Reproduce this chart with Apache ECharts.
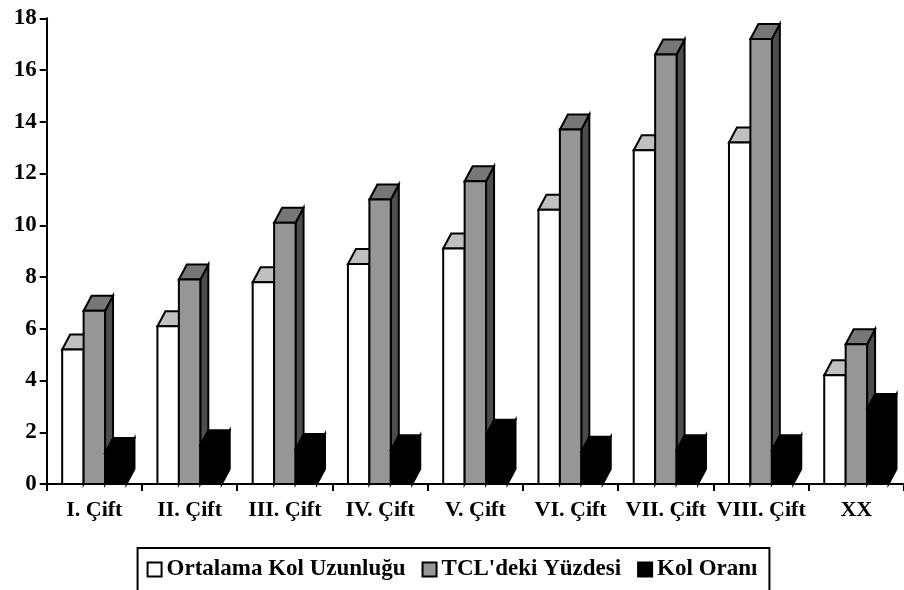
<!DOCTYPE html>
<html>
<head>
<meta charset="utf-8">
<script src="https://cdn.jsdelivr.net/npm/echarts@6/dist/echarts.min.js"></script>
<style>
  html, body { margin: 0; padding: 0; background: #fff; }
  #chart { width: 904px; height: 590px; }
</style>
</head>
<body>
<div id="chart"></div>
<script>
// Chromosome pairs and their measurements
const categories = ['I. Çift', 'II. Çift', 'III. Çift', 'IV. Çift', 'V. Çift', 'VI. Çift', 'VII. Çift', 'VIII. Çift', 'XX'];
const ortalamaKolUzunlugu = [5.2, 6.1, 7.8, 8.5, 9.1, 10.6, 12.9, 13.2, 4.2];
const tclYuzdesi = [6.7, 7.9, 10.1, 11.0, 11.7, 13.7, 16.6, 17.2, 5.4];
const kolOrani = [1.2, 1.5, 1.35, 1.3, 1.9, 1.25, 1.3, 1.3, 2.9];
const yTicks = [0, 2, 4, 6, 8, 10, 12, 14, 16, 18];

const seriesNames = ['Ortalama Kol Uzunluğu', "TCL'deki Yüzdesi", 'Kol Oranı'];
const seriesValues = [ortalamaKolUzunlugu, tclYuzdesi, kolOrani];

// front / top / side shading of each pseudo-3D column
const shades = [
  { front: '#ffffff', top: '#c0c0c0', side: '#dddddd' },
  { front: '#969696', top: '#777777', side: '#4d4d4d' },
  { front: '#000000', top: '#000000', side: '#000000' }
];

const DEPTH_X = 8, DEPTH_Y = 15, BAR_FRAC = 0.225;
const FONT = '"Liberation Serif", "Times New Roman", serif';

function makeRenderer(slot) {
  const sh = shades[slot];
  return function (params, api) {
    const idx = api.value(0);
    const val = api.value(1);
    const base = api.coord([idx, 0]);
    const top = api.coord([idx, val]);
    const band = api.size([1, 0])[0];
    const w = band * BAR_FRAC;
    const x0 = base[0] - 1.5 * w + slot * w;
    const x1 = x0 + w;
    const yb = base[1], yt = top[1];
    const line = { stroke: '#000', lineWidth: 2, lineJoin: 'miter' };
    return {
      type: 'group',
      children: [
        {
          type: 'polygon',
          shape: { points: [[x1, yt], [x1 + DEPTH_X, yt - DEPTH_Y], [x1 + DEPTH_X, yb - DEPTH_Y], [x1, yb]] },
          style: Object.assign({ fill: sh.side }, line)
        },
        {
          type: 'polygon',
          shape: { points: [[x0, yt], [x1, yt], [x1 + DEPTH_X, yt - DEPTH_Y], [x0 + DEPTH_X, yt - DEPTH_Y]] },
          style: Object.assign({ fill: sh.top }, line)
        },
        {
          type: 'rect',
          shape: { x: x0, y: yt, width: w, height: yb - yt },
          style: Object.assign({ fill: sh.front }, line)
        }
      ]
    };
  };
}

const chart = echarts.init(document.getElementById('chart'), null, { renderer: 'canvas' });

const series = seriesNames.map(function (name, s) {
  return {
    name: name,
    type: 'custom',
    renderItem: makeRenderer(s),
    encode: { x: 0, y: 1 },
    itemStyle: { color: shades[s].front },
    data: seriesValues[s].map(function (v, i) { return [i, v]; }),
    z: 2 + s
  };
});

chart.setOption({
  animation: false,
  backgroundColor: '#fff',
  grid: { left: 46.7, right: -4.9, top: 18.3, bottom: 106 },
  legend: {
    left: 'center',
    top: 548,
    orient: 'horizontal',
    itemGap: 16,
    itemWidth: 14,
    itemHeight: 14,
    padding: [10, 12, 10, 9],
    borderColor: '#000',
    borderWidth: 2,
    borderRadius: 0,
    icon: 'rect',
    textStyle: { fontFamily: FONT, fontWeight: 'bold', fontSize: 23, color: '#000', padding: [0, 0, 0, 0] },
    data: seriesNames.map(function (n, s) {
      return { name: n, icon: 'rect', itemStyle: { color: shades[s].front, borderColor: '#000', borderWidth: 2 } };
    })
  },
  xAxis: {
    type: 'category',
    data: categories,
    boundaryGap: true,
    axisLine: { show: true, lineStyle: { color: '#000', width: 2 } },
    axisTick: { show: true, inside: false, length: 7, alignWithLabel: false, lineStyle: { color: '#000', width: 2 } },
    axisLabel: { fontFamily: FONT, fontWeight: 'bold', fontSize: 22, color: '#000', margin: 15, interval: 0 },
    splitLine: { show: false }
  },
  yAxis: {
    type: 'value',
    min: yTicks[0],
    max: yTicks[yTicks.length - 1],
    interval: 2,
    axisLine: { show: true, lineStyle: { color: '#000', width: 2 } },
    axisTick: { show: true, inside: false, length: 7, lineStyle: { color: '#000', width: 2 } },
    axisLabel: { fontFamily: FONT, fontWeight: 'bold', fontSize: 23, color: '#000', margin: 10 },
    splitLine: { show: false }
  },
  series: series
});
</script>
</body>
</html>
